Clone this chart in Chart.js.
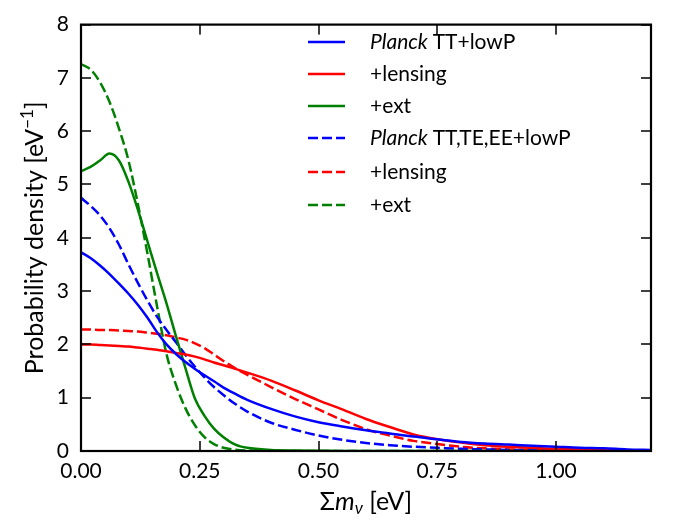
<!DOCTYPE html>
<html>
<head>
<meta charset="utf-8">
<script src="https://cdn.jsdelivr.net/npm/chart.js@4.4.1/dist/chart.umd.min.js"></script>
<style>
  html, body { margin: 0; padding: 0; background: #fff; }
  #wrap { width: 675px; height: 526px; }
</style>
</head>
<body>
<div id="wrap"><canvas id="chart"></canvas></div>
<script>
// Sum of neutrino masses (eV)
const massGrid = [0, 0.02, 0.04, 0.06, 0.08, 0.1, 0.12, 0.14, 0.16, 0.18, 0.2, 0.22, 0.24, 0.26, 0.28, 0.3, 0.325, 0.35,
    0.4, 0.45, 0.5, 0.55, 0.6, 0.65, 0.7, 0.75, 0.8, 0.85, 0.9, 0.95, 1.0, 1.05, 1.1, 1.15, 1.2];

// Probability density, solid lines (TT+lowP family)
const ttLowP = [3.73, 3.62, 3.48, 3.32, 3.14, 2.95, 2.74, 2.5, 2.23, 2.0, 1.82, 1.67, 1.54, 1.42, 1.31, 1.19, 1.07, 0.96,
    0.79, 0.65, 0.54, 0.46, 0.39, 0.33, 0.27, 0.22, 0.17, 0.14, 0.12, 0.1, 0.08, 0.06, 0.05, 0.03, 0.02];
const ttLensing = [2.0, 2.0, 1.99, 1.98, 1.97, 1.96, 1.94, 1.92, 1.9, 1.87, 1.84, 1.81, 1.77, 1.72, 1.66, 1.61, 1.54, 1.47,
    1.32, 1.14, 0.95, 0.78, 0.6, 0.45, 0.31, 0.22, 0.16, 0.11, 0.08, 0.06, 0.04, 0.03, 0.02, 0.015, 0.01];
const ttExt = [5.25, 5.33, 5.45, 5.58, 5.45, 5.05, 4.52, 3.93, 3.34, 2.77, 2.15, 1.55, 0.98, 0.66, 0.42, 0.26, 0.12, 0.06,
    0.02, 0.01, 0.005, 0, 0, 0, 0, 0, 0, 0, 0, 0, 0, 0, 0, 0, 0];

// Probability density, dashed lines (TT,TE,EE+lowP family)
const allLowP = [4.75, 4.6, 4.42, 4.18, 3.87, 3.5, 3.15, 2.82, 2.52, 2.27, 2.04, 1.8, 1.58, 1.38, 1.2, 1.05, 0.88, 0.74,
    0.53, 0.4, 0.29, 0.21, 0.15, 0.11, 0.08, 0.06, 0.04, 0.03, 0.02, 0.015, 0.01, 0.008, 0.005, 0.003, 0.002];
const allLensing = [2.28, 2.28, 2.27, 2.27, 2.26, 2.25, 2.24, 2.22, 2.2, 2.17, 2.13, 2.09, 2.02, 1.93, 1.81, 1.69, 1.55, 1.43,
    1.2, 0.98, 0.78, 0.58, 0.41, 0.29, 0.19, 0.13, 0.08, 0.05, 0.03, 0.02, 0.01, 0.008, 0.005, 0.003, 0.002];
const allExt = [7.26, 7.16, 6.92, 6.55, 6.05, 5.45, 4.62, 3.7, 2.72, 1.82, 1.24, 0.8, 0.48, 0.26, 0.13, 0.06, 0.025, 0.01,
    0.003, 0, 0, 0, 0, 0, 0, 0, 0, 0, 0, 0, 0, 0, 0, 0, 0];

const seriesLabels = ['Planck TT+lowP', '+lensing', '+ext', 'Planck TT,TE,EE+lowP', '+lensing', '+ext'];
const xTicks = [0, 0.25, 0.5, 0.75, 1.0];
const yTicks = [0, 1, 2, 3, 4, 5, 6, 7, 8];
const X_MAX = 1.2, Y_MAX = 8;

const FONT = 'Lato';
const dash = [10, 4];

function series(values, label, color, dashed) {
    return {
        label: label,
        data: massGrid.map((m, i) => ({ x: m, y: values[i] })),
        borderColor: color,
        borderWidth: 2.5,
        borderDash: dashed ? dash : [],
        pointRadius: 0,
        fill: false,
        cubicInterpolationMode: 'monotone'
    };
}

// Inward ticks on all four sides
const innerTicks = {
    id: 'innerTicks',
    afterDatasetsDraw(chart) {
        const c = chart.ctx;
        const a = chart.chartArea;
        const sx = chart.scales.x, sy = chart.scales.y;
        c.save();
        c.fillStyle = '#000';
        for (const v of xTicks) {
            const px = Math.round(sx.getPixelForValue(v));
            c.fillRect(px - 0.75, a.bottom - 10, 1.5, 10);
            c.fillRect(px - 0.75, a.top, 1.5, 10);
        }
        for (const v of yTicks) {
            const py = Math.round(sy.getPixelForValue(v));
            c.fillRect(a.left, py - 0.75, 10, 1.5);
            c.fillRect(a.right - 10, py - 0.75, 10, 1.5);
        }
        c.restore();
    }
};

// Frame, legend and axis titles
const decorations = {
    id: 'decorations',
    afterDraw(chart) {
        const c = chart.ctx;
        const { left, right, top, bottom } = chart.chartArea;
        c.save();
        c.setLineDash([]);

        // frame
        c.strokeStyle = '#000';
        c.lineWidth = 2.2;
        c.strokeRect(left, top, right - left, bottom - top);

        // legend
        const rowY = [42, 74, 106, 138, 172, 205];
        c.textBaseline = 'middle';
        c.textAlign = 'left';
        chart.data.datasets.forEach((ds, i) => {
            const yy = rowY[i];
            c.beginPath();
            c.strokeStyle = ds.borderColor;
            c.lineWidth = 2.5;
            c.setLineDash(ds.borderDash);
            c.moveTo(308, yy);
            c.lineTo(345, yy);
            c.stroke();
            c.setLineDash([]);
            c.fillStyle = '#000';
            let tx = 370;
            let text = ds.label;
            if (text.startsWith('Planck ')) {
                c.font = 'italic 21px ' + FONT;
                c.fillText('Planck', tx, yy);
                tx += c.measureText('Planck ').width;
                text = text.slice(7);
            }
            c.font = '21px ' + FONT;
            c.fillText(text, tx, yy);
        });

        // x title: Σm_ν [eV]
        c.fillStyle = '#000';
        c.textBaseline = 'alphabetic';
        const parts = [
            { t: 'Σ', f: '25px ' + FONT, dy: 0 },
            { t: 'm', f: 'italic 25px ' + FONT, dy: 0 },
            { t: 'ν', f: 'italic 17px ' + FONT, dy: 4 },
            { t: ' [eV]', f: '25px ' + FONT, dy: 0 }
        ];
        let w = 0;
        parts.forEach(p => { c.font = p.f; w += c.measureText(p.t).width; });
        let cx = (left + right) / 2 - w / 2;
        parts.forEach(p => {
            c.font = p.f;
            c.fillText(p.t, cx, 510 + p.dy);
            cx += c.measureText(p.t).width;
        });

        // y title: Probability density [eV^-1]
        c.translate(43, (top + bottom) / 2);
        c.rotate(-Math.PI / 2);
        const yparts = [
            { t: 'Probability density [eV', f: '25px ' + FONT, dy: 0 },
            { t: '\u22121', f: '17px ' + FONT, dy: -10 },
            { t: ']', f: '25px ' + FONT, dy: 0 }
        ];
        w = 0;
        yparts.forEach(p => { c.font = p.f; w += c.measureText(p.t).width; });
        cx = -w / 2;
        yparts.forEach(p => {
            c.font = p.f;
            c.fillText(p.t, cx, p.dy);
            cx += c.measureText(p.t).width;
        });
        c.restore();
    }
};

const ctx = document.getElementById('chart').getContext('2d');
new Chart(ctx, {
    type: 'line',
    data: {
        datasets: [
            series(ttLowP, seriesLabels[0], '#0000ff', false),
            series(ttLensing, seriesLabels[1], '#ff0000', false),
            series(ttExt, seriesLabels[2], '#008000', false),
            series(allLowP, seriesLabels[3], '#0000ff', true),
            series(allLensing, seriesLabels[4], '#ff0000', true),
            series(allExt, seriesLabels[5], '#008000', true)
        ]
    },
    options: {
        responsive: true,
        maintainAspectRatio: false,
        animation: false,
        layout: { padding: { top: 11, right: 24, left: 0, bottom: 0 } },
        scales: {
            x: {
                type: 'linear',
                min: 0,
                max: X_MAX,
                afterFit: s => { s.height = 75; },
                afterBuildTicks: s => { s.ticks = xTicks.map(v => ({ value: v })); },
                ticks: {
                    color: '#000',
                    font: { family: FONT, size: 21 },
                    padding: 8,
                    maxRotation: 0,
                    callback: v => v.toFixed(2)
                },
                grid: { display: false, drawTicks: false },
                border: { display: false }
            },
            y: {
                min: 0,
                max: Y_MAX,
                afterFit: s => { s.width = 81; },
                afterBuildTicks: s => { s.ticks = yTicks.map(v => ({ value: v })); },
                ticks: {
                    color: '#000',
                    font: { family: FONT, size: 21 },
                    padding: 12
                },
                grid: { display: false, drawTicks: false },
                border: { display: false }
            }
        },
        plugins: {
            legend: { display: false },
            tooltip: { enabled: false }
        }
    },
    plugins: [innerTicks, decorations]
});
</script>
</body>
</html>
